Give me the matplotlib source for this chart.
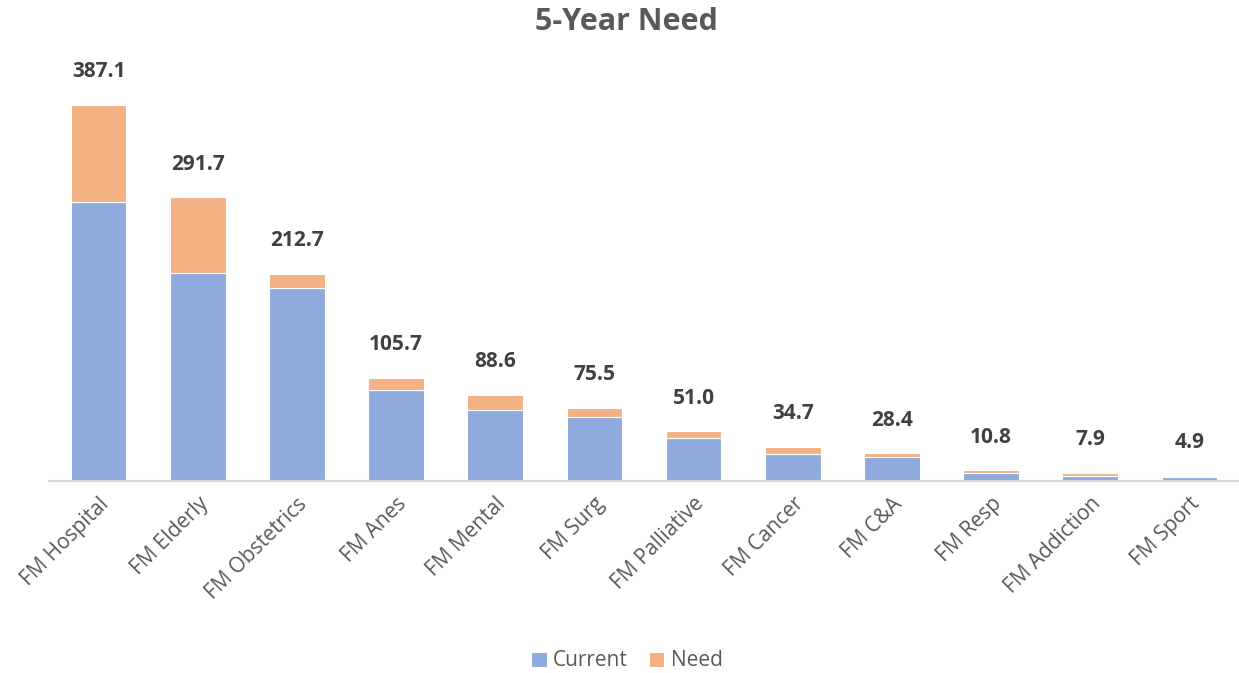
import matplotlib.pyplot as plt
import numpy as np

plt.rcParams['font.family'] = ['Open Sans', 'DejaVu Sans']

categories = ["FM Hospital", "FM Elderly", "FM Obstetrics", "FM Anes", "FM Mental",
              "FM Surg", "FM Palliative", "FM Cancer", "FM C&A", "FM Resp",
              "FM Addiction", "FM Sport"]
totals = [387.1, 291.7, 212.7, 105.7, 88.6, 75.5, 51.0, 34.7, 28.4, 10.8, 7.9, 4.9]
current = [287.0, 214.0, 198.0, 94.0, 73.5, 66.0, 44.5, 28.0, 25.0, 8.0, 5.5, 4.4]
need = [t - c for t, c in zip(totals, current)]

fig = plt.figure(figsize=(12.39, 6.73), dpi=100)
ax = fig.add_axes([49 / 1239, 1 - 481 / 673, 1 - 49 / 1239, 421 / 673])

x = np.arange(len(categories))
ax.bar(x, current, width=0.56, color="#8FAADC", edgecolor="white", linewidth=0.8, label="Current")
ax.bar(x, need, width=0.56, bottom=current, color="#F4B183", edgecolor="white", linewidth=0.8, label="Need")

# total value above each stacked bar
for xi, t in zip(x, totals):
    ax.annotate(f"{t:.1f}", (xi, t), xytext=(0, 24), textcoords="offset points",
                ha="center", va="center", fontsize=15, fontweight="bold", color="#404040")

ax.set_xlim(-0.5, len(categories) - 0.5)
ax.set_ylim(0, 433)
ax.set_yticks([])
for side in ["left", "right", "top"]:
    ax.spines[side].set_visible(False)
ax.spines["bottom"].set_color("#D9D9D9")
ax.spines["bottom"].set_linewidth(1.5)

ax.set_xticks(x)
ax.set_xticklabels(categories, rotation=45, ha="right", rotation_mode="anchor",
                   fontsize=15, color="#595959")
ax.tick_params(axis="x", length=0, pad=9)

fig.suptitle("5-Year Need", x=0.506, y=0.99, fontsize=22, fontweight="bold", color="#595959")
fig.legend(loc="center", bbox_to_anchor=(0.506, 1 - 661 / 673), ncol=2, frameon=False,
           fontsize=15, labelcolor="#595959", handlelength=0.75, handleheight=0.75,
           columnspacing=1.0, handletextpad=0.3)

plt.savefig("out.png")
